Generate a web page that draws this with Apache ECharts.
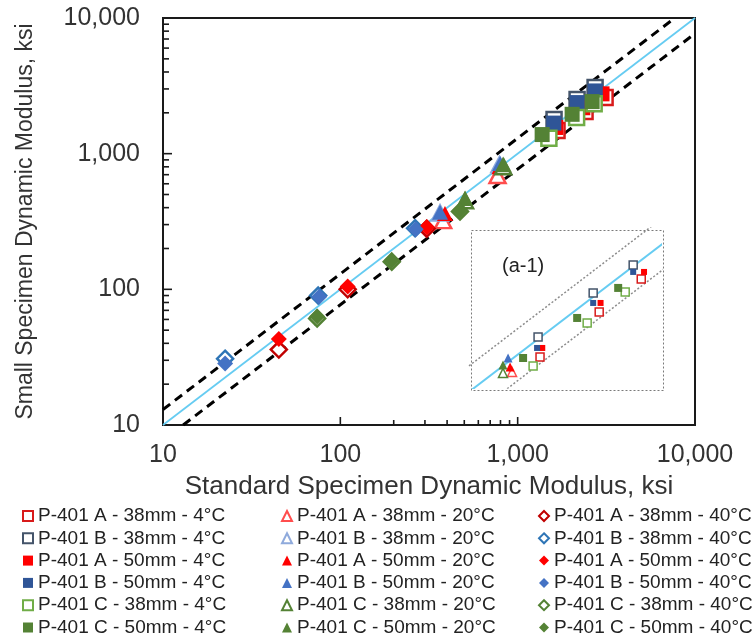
<!DOCTYPE html>
<html><head><meta charset="utf-8">
<script src="https://cdn.jsdelivr.net/npm/echarts@6/dist/echarts.min.js"></script>
<style>html,body{margin:0;padding:0;background:#fff}#c{width:753px;height:643px}</style>
</head><body><div id="c"></div>
<script>
// ---------- data ----------
const axisRange = [10, 10000];
const boundFactor = 1.3;
const xTickValues = [100,200,300,400,500,600,700,800,900,1000];
const yTickValues = [20,30,40,50,60,70,80,90,100,200,300,400,500,600,700,800,900,1000,2000,3000,4000,5000,6000,7000,8000,9000];
const majorTicks = [100, 1000];

const names = [
  'P-401 A - 38mm - 4°C','P-401 A - 38mm - 20°C','P-401 A - 38mm - 40°C',
  'P-401 B - 38mm - 4°C','P-401 B - 38mm - 20°C','P-401 B - 38mm - 40°C',
  'P-401 A - 50mm - 4°C','P-401 A - 50mm - 20°C','P-401 A - 50mm - 40°C',
  'P-401 B - 50mm - 4°C','P-401 B - 50mm - 20°C','P-401 B - 50mm - 40°C',
  'P-401 C - 38mm - 4°C','P-401 C - 38mm - 20°C','P-401 C - 38mm - 40°C',
  'P-401 C - 50mm - 4°C','P-401 C - 50mm - 20°C','P-401 C - 50mm - 40°C'
];

// main plot values [standard, small]
const A38_4  = [[1667,1480],[2399,2043],[3112,2590]];
const A38_20 = [[380,321],[770,690]];
const A38_40 = [[45,36],[110,100],[307,280]];
const B38_4  = [[1604,1784],[2163,2504],[2733,3070]];
const B38_20 = [[365,365],[790,830]];
const B38_40 = [[22.4,30.8],[75,90],[264,282]];
const A50_4  = [[1640,1560],[2330,2180],[2990,2760]];
const A50_20 = [[389,362],[790,800]];
const A50_40 = [[45,43],[110,105],[307,287]];
const B50_4  = [[1600,1680],[2170,2380],[2740,2900]];
const B50_20 = [[365,370],[796,845]];
const B50_40 = [[22.4,28.4],[76,88],[266,277]];
const C38_4  = [[1500,1300],[2150,1850],[2700,2330]];
const C38_20 = [[505,450],[828,800]];
const C38_40 = [[74,61],[195,160],[473,375]];
const C50_4  = [[1374,1383],[2028,1950],[2630,2420]];
const C50_20 = [[505,467],[835,830]];
const C50_40 = [[74,63],[195,163],[473,381]];

// inset (a-1) values
const insetRangeX = [1000, 4400];
const insetRangeY = [1040, 5230];
const inA38_4  = [[1730,1423],[2731,2240],[3778,3126]];
const inB38_4  = [[1704,1741],[2607,2714],[3550,3601]];
const inA50_4  = [[1760,1558],[2760,2454],[3860,3356]];
const inB50_4  = [[1691,1558],[2607,2454],[3550,3356]];
const inC38_4  = [[1640,1299],[2489,2005],[3338,2742]];
const inC50_4  = [[1518,1408],[2304,2109],[3162,2856]];
const inA38_20 = [[1394,1222]];
const inA50_20 = [[1373,1285]];
const inB50_20 = [[1352,1408]];
const inC38_20 = [[1300,1210]];
const inC50_20 = [[1300,1312]];

// ---------- styles ----------
const FONT = 'Liberation Sans, Arial, sans-serif';
const st = {
  A38_4:  {sym:'rect', col:'#D81B1B', hollow:true},
  A38_20: {sym:'triangle', col:'#FF4D4D', hollow:true},
  A38_40: {sym:'diamond', col:'#C00000', hollow:true},
  B38_4:  {sym:'rect', col:'#44546A', hollow:true},
  B38_20: {sym:'triangle', col:'#8FAADC', hollow:true},
  B38_40: {sym:'diamond', col:'#2E75B6', hollow:true},
  A50_4:  {sym:'rect', col:'#FF0000'},
  A50_20: {sym:'triangle', col:'#FF0000'},
  A50_40: {sym:'diamond', col:'#FF0000'},
  B50_4:  {sym:'rect', col:'#2F5597'},
  B50_20: {sym:'triangle', col:'#4472C4'},
  B50_40: {sym:'diamond', col:'#4472C4'},
  C38_4:  {sym:'rect', col:'#70AD47', hollow:true},
  C38_20: {sym:'triangle', col:'#548235', hollow:true},
  C38_40: {sym:'diamond', col:'#548235', hollow:true},
  C50_4:  {sym:'rect', col:'#548235'},
  C50_20: {sym:'triangle', col:'#548235'},
  C50_40: {sym:'diamond', col:'#548235'}
};
const keys = ['A38_4','A38_20','A38_40','B38_4','B38_20','B38_40','A50_4','A50_20','A50_40','B50_4','B50_20','B50_40','C38_4','C38_20','C38_40','C50_4','C50_20','C50_40'];
const mainData = {A38_4,A38_20,A38_40,B38_4,B38_20,B38_40,A50_4,A50_20,A50_40,B50_4,B50_20,B50_40,C38_4,C38_20,C38_40,C50_4,C50_20,C50_40};
const insetData = {A38_4:inA38_4,B38_4:inB38_4,A50_4:inA50_4,B50_4:inB50_4,C38_4:inC38_4,C50_4:inC50_4,
  A38_20:inA38_20,A50_20:inA50_20,B50_20:inB50_20,C38_20:inC38_20,C50_20:inC50_20};

function itemStyle(s, bw){
  return s.hollow ? {color:'#ffffff', borderColor:s.col, borderWidth:bw, opacity:1}
                  : {color:s.col, borderWidth:0, opacity:1};
}

const series = [];
keys.forEach((k,i)=>{
  const s = st[k];
  series.push({
    name: names[i], type:'scatter', xAxisIndex:0, yAxisIndex:0,
    symbol: s.sym, symbolSize: s.sym==='triangle' ? [16,15] : (s.sym==='diamond'? 16 : 15),
    itemStyle: itemStyle(s, 2.5), data: mainData[k], z:3, emphasis:{disabled:true}
  });
});
keys.forEach((k,i)=>{
  if(!insetData[k]) return;
  const s = st[k];
  const smallFilled = (s.sym==='rect' && !s.hollow && k[0] !== 'C');
  series.push({
    name: names[i]+' (a-1)', type:'scatter', xAxisIndex:1, yAxisIndex:1,
    symbol: s.sym, symbolSize: smallFilled ? 6 : (s.sym==='triangle' ? 9 : 8),
    itemStyle: itemStyle(s, 1.5), data: insetData[k], z:4, emphasis:{disabled:true}
  });
});

// reference lines main
const [lo, hi] = axisRange;
series.push({type:'line', xAxisIndex:0, yAxisIndex:0, symbol:'none', silent:true, z:2,
  data:[[lo,lo],[hi,hi]], lineStyle:{color:'#66CCF2', width:1.8}});
series.push({type:'line', xAxisIndex:0, yAxisIndex:0, symbol:'none', silent:true, z:2,
  data:[[lo,lo*boundFactor],[hi/boundFactor,hi]], lineStyle:{color:'#000', width:3, type:[9,6]}});
series.push({type:'line', xAxisIndex:0, yAxisIndex:0, symbol:'none', silent:true, z:2,
  data:[[lo*boundFactor,lo],[hi,hi/boundFactor]], lineStyle:{color:'#000', width:3, type:[9,6]}});
// reference lines inset
const [ixl, ixh] = insetRangeX, [iyl, iyh] = insetRangeY;
const ilo = Math.min(ixl, iyl), ihi = Math.max(ixh, iyh);
series.push({type:'line', xAxisIndex:1, yAxisIndex:1, symbol:'none', silent:true, z:2, clip:true,
  data:[[ilo,ilo],[ihi,ihi]], lineStyle:{color:'#66CCF2', width:2}});
series.push({type:'line', xAxisIndex:1, yAxisIndex:1, symbol:'none', silent:true, z:2, clip:true,
  data:[[ilo,ilo*boundFactor],[ihi,ihi*boundFactor]], lineStyle:{color:'#8c8c8c', width:1.5, type:[2,2]}});
series.push({type:'line', xAxisIndex:1, yAxisIndex:1, symbol:'none', silent:true, z:2, clip:true,
  data:[[ilo,ilo/boundFactor],[ihi,ihi/boundFactor]], lineStyle:{color:'#8c8c8c', width:1.5, type:[2,2]}});

// tick marks
series.push({type:'custom', xAxisIndex:0, yAxisIndex:0, silent:true, z:6,
  data: xTickValues.map(v=>[v, lo]),
  renderItem:(p, api)=>{
    const v = api.value(0); const c = api.coord([v, api.value(1)]);
    const len = majorTicks.includes(v) ? 8 : 5;
    return {type:'line', shape:{x1:c[0], y1:c[1], x2:c[0], y2:c[1]-len}, style:{stroke:'#1a1a1a', lineWidth:1.6}};
  }});
series.push({type:'custom', xAxisIndex:0, yAxisIndex:0, silent:true, z:6,
  data: yTickValues.map(v=>[lo, v]),
  renderItem:(p, api)=>{
    const v = api.value(1); const c = api.coord([api.value(0), v]);
    const len = majorTicks.includes(v) ? 9 : 6;
    return {type:'line', shape:{x1:c[0], y1:c[1], x2:c[0]+len, y2:c[1]}, style:{stroke:'#1a1a1a', lineWidth:1.6}};
  }});

const fmt = v => Number(v).toLocaleString('en-US');
const legendText = {fontSize:19, fontFamily:FONT, color:'#222', lineHeight:20, padding:0};
function legendCol(idxs, left){
  return {orient:'vertical', left:left, top:506, height:137, padding:0,
    itemWidth:10, itemHeight:10, itemGap:2.3,
    selectedMode:false, textStyle:legendText, data: idxs.map(i=>names[i])};
}

const option = {
  animation:false,
  backgroundColor:'#fff',
  grid:[
    {left:163, top:18, width:532, height:407, show:true, borderColor:'#1a1a1a', borderWidth:2, containLabel:false},
    {left:469, top:228, width:192, height:160, show:true, borderColor:'rgba(0,0,0,0)', borderWidth:0, backgroundColor:'#fff'}
  ],
  xAxis:[
    {type:'log', logBase:10, min:lo, max:hi, gridIndex:0,
     axisLine:{show:false}, axisTick:{show:false}, splitLine:{show:false},
     axisLabel:{fontSize:25, fontFamily:FONT, color:'#333', margin:18, formatter:fmt},
     name:'Standard Specimen Dynamic Modulus, ksi', nameLocation:'middle', nameGap:49,
     nameTextStyle:{fontSize:26, fontFamily:FONT, color:'#333'}},
    {type:'log', logBase:10, min:ixl, max:ixh, gridIndex:1, show:false}
  ],
  yAxis:[
    {type:'log', logBase:10, min:lo, max:hi, gridIndex:0,
     axisLine:{show:false}, axisTick:{show:false}, splitLine:{show:false},
     axisLabel:{fontSize:25, fontFamily:FONT, color:'#333', margin:23, formatter:fmt},
     name:'Small Specimen Dynamic Modulus, ksi', nameLocation:'middle', nameGap:126,
     nameTextStyle:{fontSize:23, fontFamily:FONT, color:'#333'}},
    {type:'log', logBase:10, min:iyl, max:iyh, gridIndex:1, show:false}
  ],
  legend:[
    legendCol([0,3,6,9,12,15], 22),
    legendCol([1,4,7,10,13,16], 281),
    legendCol([2,5,8,11,14,17], 538)
  ],
  graphic:[
    {type:'rect', left:469, top:228, shape:{width:192, height:160}, z:10,
     style:{fill:'none', stroke:'#7a7a7a', lineWidth:1, lineDash:[2,2]}},
    {type:'text', left:502, top:256, z:10,
     style:{text:'(a-1)', font:'20px '+FONT, fill:'#222'}}
  ],
  series: series
};
const chart = echarts.init(document.getElementById('c'), null, {renderer:'canvas'});
chart.setOption(option);
</script></body></html>
